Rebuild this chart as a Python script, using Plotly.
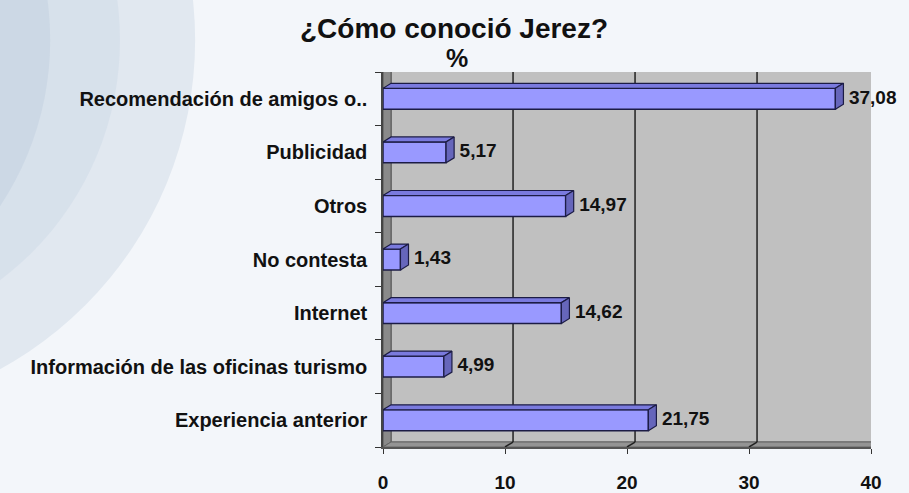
import plotly.graph_objects as go

# ---- data ----
categories = [
    "Experiencia anterior",
    "Información de las oficinas turismo",
    "Internet",
    "No contesta",
    "Otros",
    "Publicidad",
    "Recomendación de amigos o..",
]
values = [21.75, 4.99, 14.62, 1.43, 14.97, 5.17, 37.08]
x_ticks = [0, 10, 20, 30, 40]
title_text = "¿Cómo conoció Jerez?"
unit_text = "%"

# ---- style ----
FONT = "Liberation Sans, Arial, sans-serif"
BG = "#f3f6fa"
XMAX = 40
DX = 0.66        # depth offset along value axis (data units)
DY = 0.093       # depth offset along category axis (category units)
BAR_H = 0.39
LABEL_GAP = 0.45
FRONT = "#9999ff"
TOP = "#7a7ade"
SIDE = "#6666bb"
EDGE = "#1c1c45"

n = len(categories)
ypos = list(range(n))
y_lo, y_hi = -0.5, n - 0.5

fig = go.Figure()

# 3D top and side faces of the bars (derived from values)
for yi, v in zip(ypos, values):
    top = yi + BAR_H / 2
    bot = yi - BAR_H / 2
    fig.add_trace(go.Scatter(
        x=[0, v, v + DX, DX, 0], y=[top, top, top + DY, top + DY, top],
        mode="lines", fill="toself", fillcolor=TOP,
        line=dict(color=EDGE, width=1.2), hoverinfo="skip", showlegend=False))
    fig.add_trace(go.Scatter(
        x=[v, v + DX, v + DX, v, v], y=[bot, bot + DY, top + DY, top, bot],
        mode="lines", fill="toself", fillcolor=SIDE,
        line=dict(color=EDGE, width=1.2), hoverinfo="skip", showlegend=False))

# front faces
fig.add_trace(go.Bar(
    x=values, y=ypos, orientation="h", width=BAR_H,
    marker=dict(color=FRONT, line=dict(color=EDGE, width=1.5)),
    showlegend=False, hoverinfo="x+y"))

# value labels
fig.add_trace(go.Scatter(
    x=[v + DX + LABEL_GAP for v in values], y=ypos, mode="text",
    text=[f"{v:.2f}".replace(".", ",") for v in values],
    textposition="middle right",
    textfont=dict(family=FONT, size=19, color="#111111", weight="bold"),
    hoverinfo="skip", showlegend=False, cliponaxis=False))

shapes = []
# globe-like background decoration (soft layered discs)
for (x0, x1, y0, y1, col, op) in [
    (-1.922, -0.385, 0.085, 2.085, "#e1e8f0", 1.0),
    (-1.768, -0.539, 0.285, 1.885, "#d5dfea", 0.8),
    (-1.912, -0.682, 0.285, 1.885, "#c4d2e1", 0.6),
]:
    shapes.append(dict(type="circle", xref="paper", yref="paper", layer="below",
                       x0=x0, x1=x1, y0=y0, y1=y1, opacity=op,
                       fillcolor=col, line=dict(width=0)))
# back wall
shapes.append(dict(type="rect", xref="x", yref="y", layer="below",
                   x0=DX, x1=XMAX + DX, y0=y_lo + DY, y1=y_hi + DY,
                   fillcolor="#c0c0c0", line=dict(color="#7a7a7a", width=1.5)))
# left wall
shapes.append(dict(type="path", xref="x", yref="y", layer="below",
                   path=f"M0,{y_lo} L{DX},{y_lo + DY} L{DX},{y_hi + DY} L0,{y_hi} Z",
                   fillcolor="#8a8a8a", line=dict(color="#555555", width=1)))
# floor
shapes.append(dict(type="path", xref="x", yref="y", layer="below",
                   path=f"M0,{y_lo} L{XMAX},{y_lo} L{XMAX + DX},{y_lo + DY} L{DX},{y_lo + DY} Z",
                   fillcolor="#949494", line=dict(color="#666666", width=1)))
# gridlines on back wall and floor
for t in x_ticks[1:-1]:
    shapes.append(dict(type="line", xref="x", yref="y", layer="below",
                       x0=t + DX, x1=t + DX, y0=y_lo + DY, y1=y_hi + DY,
                       line=dict(color="#222222", width=1.5)))
    shapes.append(dict(type="line", xref="x", yref="y", layer="below",
                       x0=t, x1=t + DX, y0=y_lo, y1=y_lo + DY,
                       line=dict(color="#222222", width=1.5)))

fig.update_layout(
    width=909, height=493,
    margin=dict(l=383, r=38, t=72, b=46),
    paper_bgcolor=BG, plot_bgcolor="rgba(0,0,0,0)",
    shapes=shapes,
    showlegend=False,
    xaxis=dict(range=[0, XMAX], tickvals=x_ticks, ticks="outside", ticklen=5,
               tickcolor="#333333", showgrid=False, zeroline=False,
               showline=True, linecolor="#555555", linewidth=1.5,
               ticklabelstandoff=12, automargin=False,
               tickfont=dict(family=FONT, size=19, color="#111111", weight="bold")),
    yaxis=dict(range=[y_lo, y_hi], tickvals=ypos, ticktext=categories,
               ticks="", showgrid=False, zeroline=False,
               showline=True, linecolor="#444444", linewidth=1.5,
               minor=dict(tick0=-0.5, dtick=1, ticks="outside", ticklen=6,
                          tickcolor="#333333", showgrid=False),
               ticklabelstandoff=10, automargin=False,
               tickfont=dict(family=FONT, size=20, color="#111111", weight="bold")),
    annotations=[
        dict(text=title_text, xref="paper", yref="paper", x=0.1455, y=1.117,
             xanchor="center", yanchor="middle", showarrow=False,
             font=dict(family=FONT, size=28, color="#111111", weight="bold")),
        dict(text=unit_text, xref="paper", yref="paper", x=0.1516, y=1.037,
             xanchor="center", yanchor="middle", showarrow=False,
             font=dict(family=FONT, size=25, color="#111111", weight="bold")),
    ],
)

fig.write_html(
    "out.html",
    config={"displayModeBar": False},
    post_script="document.body.style.margin='0px';document.body.style.background='" + BG + "';",
)
